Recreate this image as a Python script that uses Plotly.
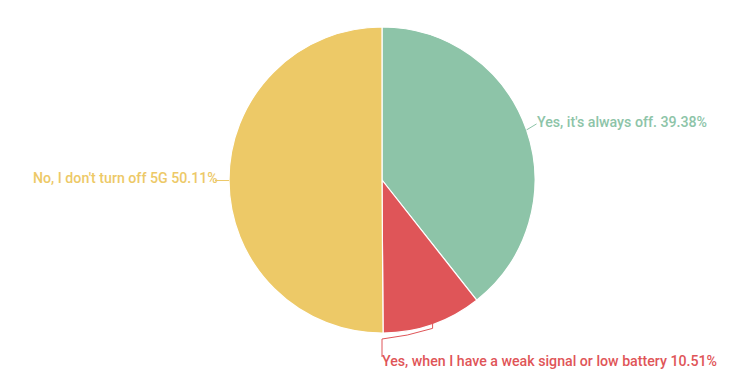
import math
import plotly.graph_objects as go

labels = ["Yes, it's always off.", "Yes, when I have a weak signal or low battery", "No, I don't turn off 5G"]
values = [39.38, 10.51, 50.11]
colors = ["#8DC4A8", "#DF5558", "#EDC967"]

W, H = 740, 387
cx, cy, r = 382, 180, 153

fig = go.Figure(go.Pie(
    labels=labels, values=values, sort=False, direction="clockwise", rotation=0,
    marker=dict(colors=colors, line=dict(color="white", width=1.2)),
    textinfo="none", hoverinfo="label+percent", showlegend=False,
    domain=dict(x=[(cx - r) / W, (cx + r) / W], y=[1 - (cy + r) / H, 1 - (cy - r) / H]),
))

def px(x):
    return x / W

def py(y):
    return 1 - y / H

total = sum(values)
start = 0.0
annotations = []
shapes = []
for i, (lab, v, col) in enumerate(zip(labels, values, colors)):
    mid = (start + v / 2) / total * 2 * math.pi
    start += v
    ex = cx + r * math.sin(mid)
    ey = cy - r * math.cos(mid)
    text = f"{lab} {v:.2f}%"
    font = dict(family="Roboto", size=14.2, color=col, weight=500)
    if i == 0:
        x1, y1 = ex + 10, ey - 6
        shapes.append(dict(type="path", xref="paper", yref="paper",
                           path=f"M {px(ex)},{py(ey)} L {px(x1)},{py(y1)}",
                           line=dict(color=col, width=1)))
        annotations.append(dict(x=px(x1 - 2), y=py(y1 - 2), text=text, showarrow=False,
                                xanchor="left", yanchor="middle", font=font))
    elif i == 2:
        x1 = ex - 14
        shapes.append(dict(type="path", xref="paper", yref="paper",
                           path=f"M {px(ex)},{py(ey)} L {px(x1)},{py(ey)}",
                           line=dict(color=col, width=1)))
        annotations.append(dict(x=px(x1 + 5), y=py(ey - 3), text=text, showarrow=False,
                                xanchor="right", yanchor="middle", font=font))
    else:
        ox, oy = ex, ey + 4
        bx = cx
        by = cy + r + 6
        ty = by + 18
        shapes.append(dict(type="path", xref="paper", yref="paper",
                           path=(f"M {px(ox)},{py(ey - 2)} L {px(ox)},{py(oy)} "
                                 f"Q {px((ox + bx) / 2)},{py(oy + 8)} {px(bx)},{py(by)} "
                                 f"L {px(bx)},{py(ty)}"),
                           line=dict(color=col, width=1)))
        annotations.append(dict(x=px(bx - 2), y=py(ty + 4), text=text, showarrow=False,
                                xanchor="left", yanchor="middle", font=font))

fig.update_layout(
    width=W, height=H, margin=dict(l=0, r=0, t=0, b=0),
    paper_bgcolor="white", plot_bgcolor="white",
    font=dict(family="Roboto"),
    annotations=annotations, shapes=shapes,
)

fig.write_html("out.html")
